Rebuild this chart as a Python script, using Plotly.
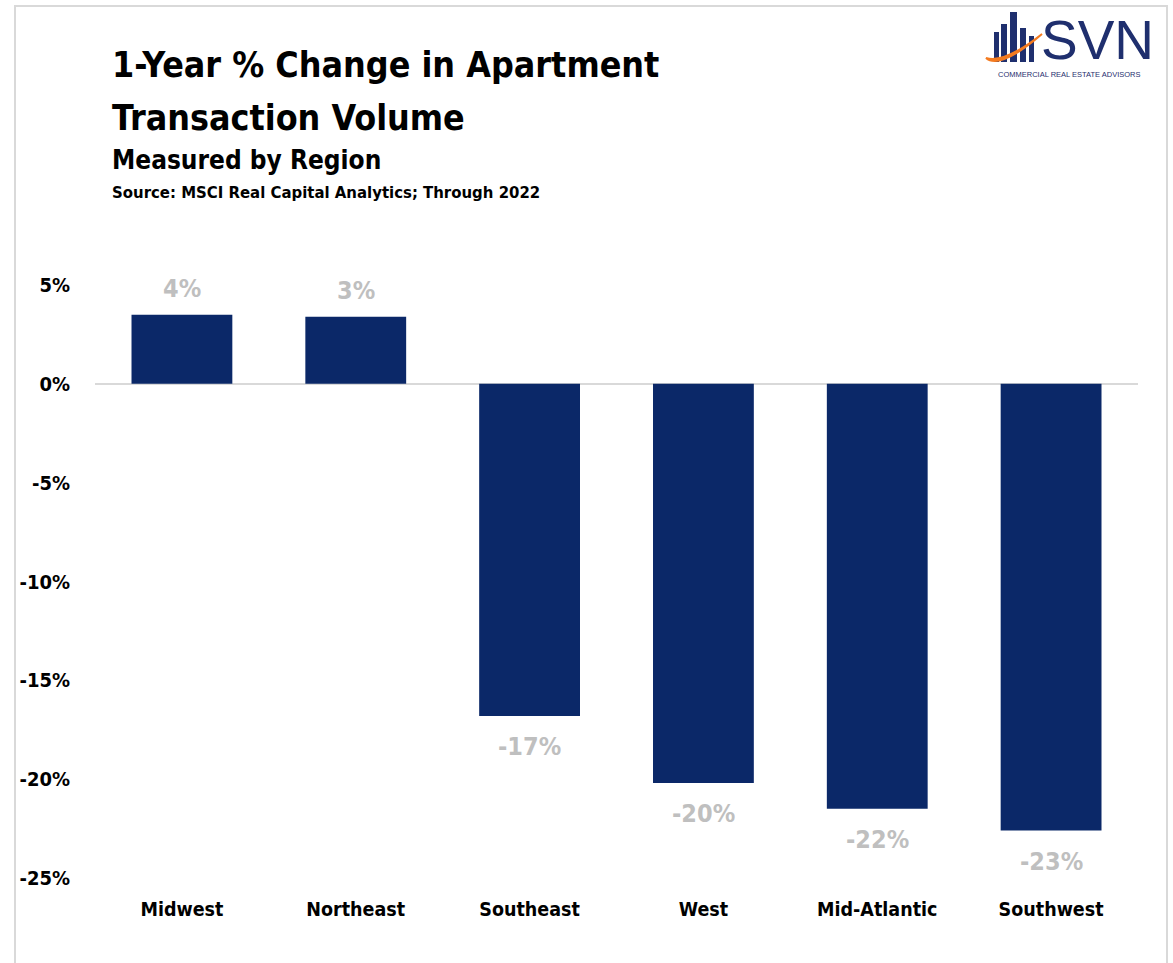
import plotly.graph_objects as go

regions = ["Midwest", "Northeast", "Southeast", "West", "Mid-Atlantic", "Southwest"]
pct_change = [3.5, 3.4, -16.8, -20.2, -21.5, -22.6]
y_ticks = [5, 0, -5, -10, -15, -20, -25]
y_tick_labels = ["5%", "0%", "-5%", "-10%", "-15%", "-20%", "-25%"]

W, H = 1173, 963
L, R, T, B = 95, 35, 285, 85
PW, PH = W - L - R, H - T - B

def px(x):
    return (x - L) / PW

def py(y):
    return (H - B - y) / PH

NARROW = "Liberation Sans Narrow, Arial Narrow, DejaVu Sans Condensed, sans-serif"
NAVY = "#0b2868"
GREY = "#bfbfbf"

fig = go.Figure()
fig.add_trace(go.Bar(
    x=regions, y=pct_change,
    marker=dict(color=NAVY, line=dict(width=0)),
    width=0.58,
    hoverinfo="skip",
))

annotations = []
for r, v in zip(regions, pct_change):
    annotations.append(dict(
        x=r, y=v, xref="x", yref="y", text=f"<b>{v:.0f}%</b>",
        showarrow=False, yanchor="bottom" if v >= 0 else "top",
        yshift=10 if v >= 0 else -14,
        font=dict(family=NARROW, size=25, color=GREY),
    ))

def txt(x, y, s, size, color="black", family=NARROW, xanchor="left"):
    annotations.append(dict(
        x=px(x), y=py(y), xref="paper", yref="paper", text=s, showarrow=False,
        xanchor=xanchor, yanchor="middle", font=dict(family=family, size=size, color=color),
    ))

txt(110, 64, "<b>1-Year % Change in Apartment</b>", 35.5)
txt(110, 117, "<b>Transaction Volume</b>", 35.5)
txt(110, 160, "<b>Measured by Region</b>", 26)
txt(110, 192, "<b>Source: MSCI Real Capital Analytics; Through 2022</b>", 16.6)

LOGO = "#1f2f6e"
txt(1097, 40, "SVN", 55, LOGO, "Liberation Sans, Arial, sans-serif", "center")
txt(1069, 74, "COMMERCIAL REAL ESTATE ADVISORS", 7.5, LOGO, "Liberation Sans, Arial, sans-serif", "center")

shapes = []
frame_col = "#d9d9d9"
shapes.append(dict(type="path", xref="paper", yref="paper",
                   path=f"M {px(15)} {py(963)} L {px(15)} {py(6)} L {px(1167)} {py(6)} L {px(1167)} {py(963)}",
                   line=dict(color=frame_col, width=2)))
for x0, x1, y0 in [(994, 999, 32), (1001, 1007, 24), (1010, 1017, 12), (1020, 1026, 28), (1029, 1034, 36)]:
    shapes.append(dict(type="rect", xref="paper", yref="paper",
                       x0=px(x0), x1=px(x1), y0=py(62), y1=py(y0),
                       fillcolor=LOGO, line=dict(width=0)))
shapes.append(dict(type="path", xref="paper", yref="paper",
                   path=f"M {px(986)} {py(58)} Q {px(1000)} {py(70)} {px(1042)} {py(34)} Q {px(1004)} {py(64)} {px(986)} {py(58)} Z",
                   fillcolor="#f47b20", line=dict(color="#f47b20", width=2)))

fig.update_layout(
    width=W, height=H,
    margin=dict(l=L, r=R, t=T, b=B, pad=0),
    paper_bgcolor="white", plot_bgcolor="white",
    showlegend=False,
    annotations=annotations,
    shapes=shapes,
    xaxis=dict(showgrid=False, showline=False, ticks="",
               tickfont=dict(family=NARROW, size=19.5, color="black"),
               ticklabelstandoff=17, fixedrange=True),
    yaxis=dict(range=[-25, 5], tickvals=y_ticks, ticktext=[f"<b>{t}</b>" for t in y_tick_labels],
               showgrid=False, zeroline=True, zerolinecolor="#d9d9d9", zerolinewidth=2,
               showline=False, ticks="", ticklabelstandoff=24,
               tickfont=dict(family=NARROW, size=20, color="black")),
)
fig.update_xaxes(tickvals=regions, ticktext=[f"<b>{r}</b>" for r in regions])
fig.write_html("out.html")
